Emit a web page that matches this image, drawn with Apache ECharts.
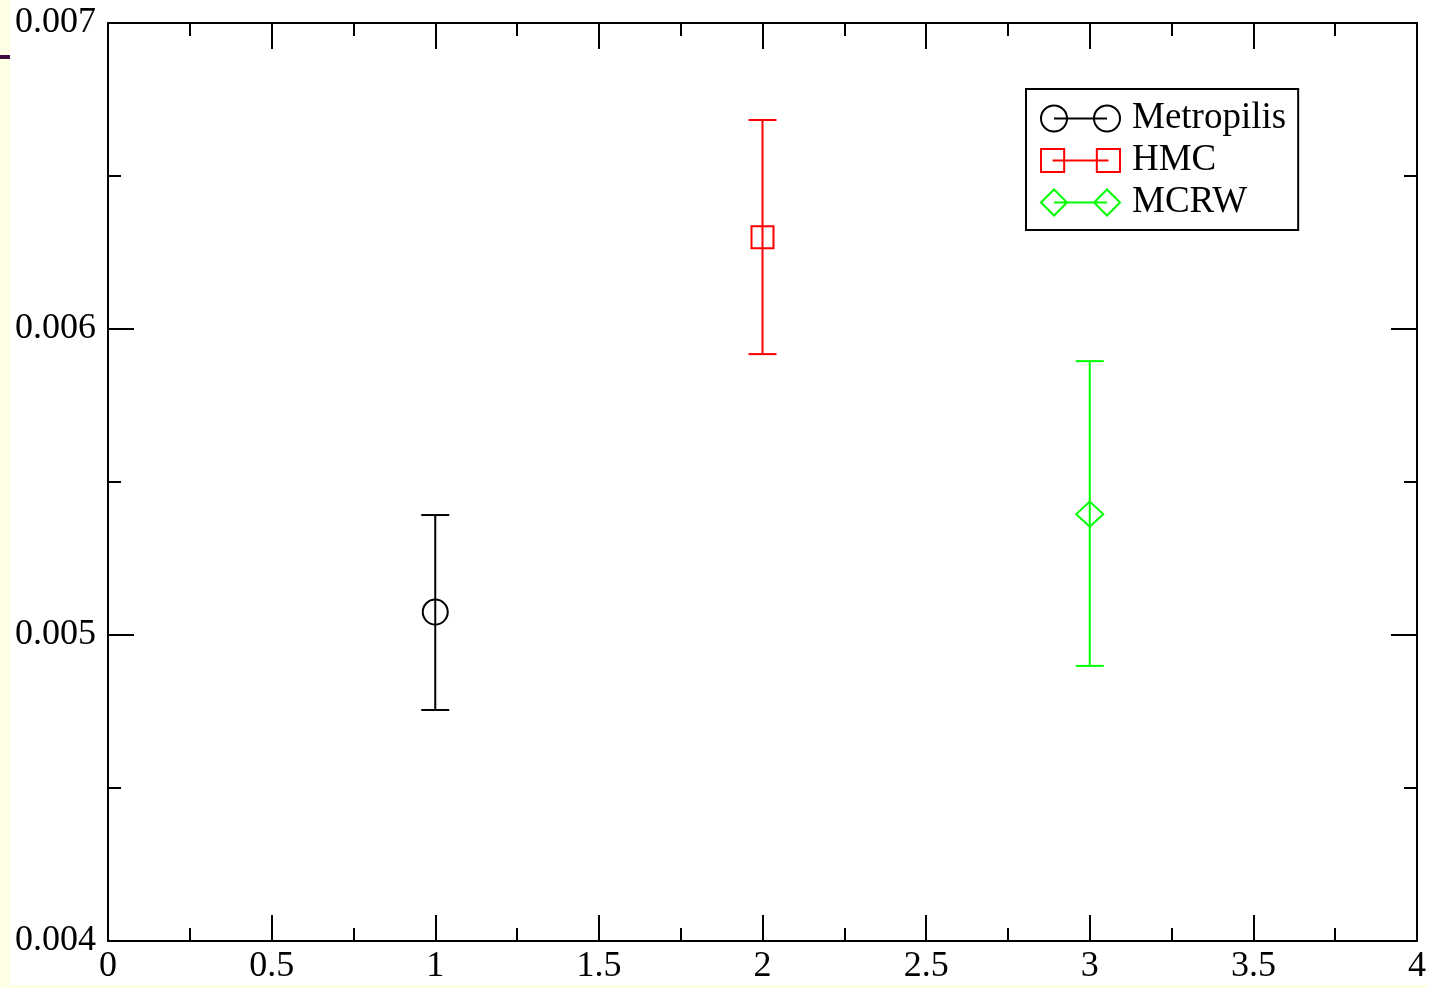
<!DOCTYPE html>
<html>
<head>
<meta charset="utf-8">
<script src="https://cdn.jsdelivr.net/npm/echarts@6/dist/echarts.min.js"></script>
<style>
  html, body { margin: 0; padding: 0; background: #ffffe6; }
  #chart { width: 1429px; height: 988px; }
</style>
</head>
<body>
<div id="chart"></div>
<script>
// ---- data ----
const seriesNames = ['Metropilis', 'HMC', 'MCRW'];
const xValues = [1, 2, 3];
const yValues = [0.005075, 0.00630, 0.005395];
const yLow = [0.004755, 0.005918, 0.004899];
const yHigh = [0.005392, 0.006683, 0.005895];
const colors = ['#000000', '#ff0000', '#00ff00'];
const markers = ['circle', 'square', 'diamond'];
const xAxisRange = [0, 4];
const yAxisRange = [0.004, 0.007];

const FONT = '"Liberation Serif", "Times New Roman", serif';

const legendIcons = {
  circle: 'path://M0,13 A13,13 0 1,0 26,13 A13,13 0 1,0 0,13 Z M13,13 L66,13 M53,13 A13,13 0 1,0 79,13 A13,13 0 1,0 53,13 Z',
  square: 'path://M2,2 L24,2 L24,24 L2,24 Z M13,13 L66,13 M55,2 L77,2 L77,24 L55,24 Z',
  diamond: 'path://M0,13 L13,0 L26,13 L13,26 Z M13,13 L66,13 M53,13 L66,0 L79,13 L66,26 Z'
};

function makeRenderItem(color, marker) {
  return function (params, api) {
    const x = api.value(0), y = api.value(1), lo = api.value(2), hi = api.value(3);
    const pc = api.coord([x, y]);
    const pl = api.coord([x, lo]);
    const ph = api.coord([x, hi]);
    const st = { stroke: color, lineWidth: 2, fill: null };
    const cap = 14;
    const children = [
      { type: 'line', shape: { x1: pl[0], y1: pl[1], x2: ph[0], y2: ph[1] }, style: st },
      { type: 'line', shape: { x1: pl[0] - cap, y1: pl[1], x2: pl[0] + cap, y2: pl[1] }, style: st },
      { type: 'line', shape: { x1: ph[0] - cap, y1: ph[1], x2: ph[0] + cap, y2: ph[1] }, style: st }
    ];
    if (marker === 'circle') {
      children.push({ type: 'circle', shape: { cx: pc[0], cy: pc[1], r: 12.5 }, style: st });
    } else if (marker === 'square') {
      children.push({ type: 'rect', shape: { x: pc[0] - 11, y: pc[1] - 11, width: 22, height: 22 }, style: st });
    } else {
      children.push({ type: 'polygon', shape: { points: [[pc[0] - 13.5, pc[1]], [pc[0], pc[1] - 12.5], [pc[0] + 13.5, pc[1]], [pc[0], pc[1] + 12.5]] }, style: st });
    }
    return { type: 'group', children: children };
  };
}

const series = seriesNames.map((name, i) => ({
  name: name,
  type: 'custom',
  xAxisIndex: 0,
  yAxisIndex: 0,
  clip: false,
  encode: { x: 0, y: 1 },
  itemStyle: { color: colors[i] },
  data: [[xValues[i], yValues[i], yLow[i], yHigh[i]]],
  renderItem: makeRenderItem(colors[i], markers[i])
}));

const tickCommon = {
  axisLine: { show: true, onZero: false, lineStyle: { color: '#000', width: 2 } },
  axisTick: { show: true, inside: true, length: 26, lineStyle: { color: '#000', width: 2 } },
  minorTick: { show: true, splitNumber: 2, length: 13, lineStyle: { color: '#000', width: 2 } },
  splitLine: { show: false },
  minorSplitLine: { show: false }
};

const option = {
  backgroundColor: '#ffffe6',
  animation: false,
  graphic: [
    { type: 'rect', z: -100, shape: { x: 10, y: 0, width: 1419, height: 985 }, style: { fill: '#ffffff' } },
    { type: 'rect', z: -100, shape: { x: 0, y: 55, width: 10, height: 4 }, style: { fill: '#3f0a3f' } }
  ],
  grid: { left: 108, top: 23, width: 1311, height: 918, containLabel: false },
  xAxis: [
    Object.assign({
      type: 'value', position: 'bottom', min: xAxisRange[0], max: xAxisRange[1], interval: 0.5,
      axisLabel: { show: true, color: '#000', fontFamily: FONT, fontSize: 36, margin: 8 }
    }, tickCommon),
    Object.assign({
      type: 'value', position: 'top', min: xAxisRange[0], max: xAxisRange[1], interval: 0.5,
      axisLabel: { show: false }
    }, tickCommon)
  ],
  yAxis: [
    Object.assign({
      type: 'value', position: 'left', min: yAxisRange[0], max: yAxisRange[1], interval: 0.001,
      axisLabel: { show: true, color: '#000', fontFamily: FONT, fontSize: 36, margin: 12 }
    }, tickCommon),
    Object.assign({
      type: 'value', position: 'right', min: yAxisRange[0], max: yAxisRange[1], interval: 0.001,
      axisLabel: { show: false }
    }, tickCommon)
  ],
  legend: {
    orient: 'vertical',
    left: 1026,
    top: 89,
    padding: [11, 12, 9, 14],
    itemWidth: 79,
    itemHeight: 26,
    itemGap: 5,
    selectedMode: false,
    borderColor: '#000',
    borderWidth: 2,
    backgroundColor: '#fff',
    textStyle: { fontFamily: FONT, fontSize: 37, color: '#000', padding: [0, 0, 0, 7] },
    data: seriesNames.map((name, i) => ({
      name: name,
      icon: legendIcons[markers[i]],
      itemStyle: { color: 'transparent', borderColor: colors[i], borderWidth: 2 }
    }))
  },
  series: series
};

const chart = echarts.init(document.getElementById('chart'), null, { renderer: 'canvas' });
chart.setOption(option);
</script>
</body>
</html>
